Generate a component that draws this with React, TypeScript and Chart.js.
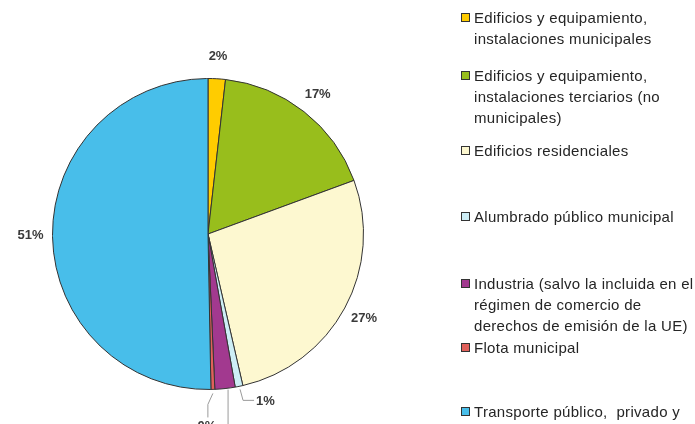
import React, { useEffect, useRef } from "react";
import { Chart, registerables } from "chart.js";

Chart.register(...registerables);

const categories = [
  "Edificios y equipamiento,\ninstalaciones municipales",
  "Edificios y equipamiento,\ninstalaciones terciarios (no\nmunicipales)",
  "Edificios residenciales",
  "Alumbrado público municipal",
  "Industria (salvo la incluida en el\nrégimen de comercio de\nderechos de emisión de la UE)",
  "Flota municipal",
  "Transporte público,  privado y\ncomercial",
];
const shares = [1.8, 17.6, 27.0, 0.8, 2.1, 0.4, 50.3];
const pctLabels = ["2%", "17%", "27%", "1%", "2%", "0%", "51%"];
const colors = ["#FFCC00", "#98BE1C", "#FDF8D0", "#CDEEF6", "#A2398F", "#E0605A", "#48BEEA"];
const legendTops = [7, 65, 140, 206, 273, 337, 401];

const FONT = '"Liberation Sans", Arial, sans-serif';

const labelPlugin = {
  id: "pctLabels",
  afterDatasetsDraw(chart: any) {
    const ctx = chart.ctx;
    const meta = chart.getDatasetMeta(0);
    ctx.save();
    ctx.font = `bold 13px ${FONT}`;
    ctx.fillStyle = "#3a3a3a";
    ctx.strokeStyle = "#9a9a9a";
    ctx.lineWidth = 1;
    meta.data.forEach((arc: any, i: number) => {
      const p = arc.getProps(["x", "y", "startAngle", "endAngle", "outerRadius"], true);
      const mid = (p.startAngle + p.endAngle) / 2;
      const ex = p.x + Math.cos(mid) * p.outerRadius;
      const ey = p.y + Math.sin(mid) * p.outerRadius;
      if (i === 3) {
        ctx.beginPath();
        ctx.moveTo(ex + 1, ey + 3);
        ctx.lineTo(ex + 4, ey + 14);
        ctx.lineTo(ex + 15, ey + 14);
        ctx.stroke();
        ctx.textAlign = "left";
        ctx.textBaseline = "middle";
        ctx.fillText(pctLabels[i], ex + 17, ey + 15);
      } else if (i === 4) {
        ctx.beginPath();
        ctx.moveTo(ex + 3, ey + 1);
        ctx.lineTo(ex + 3, ey + 60);
        ctx.stroke();
        ctx.textAlign = "center";
        ctx.textBaseline = "top";
        ctx.fillText(pctLabels[i], ex + 3, ey + 62);
      } else if (i === 5) {
        ctx.beginPath();
        ctx.moveTo(ex, ey + 4);
        ctx.lineTo(ex - 5, ey + 15);
        ctx.lineTo(ex - 5, ey + 28);
        ctx.stroke();
        ctx.textAlign = "center";
        ctx.textBaseline = "top";
        ctx.fillText(pctLabels[i], ex - 6, ey + 30);
      } else {
        const r = p.outerRadius + 22;
        ctx.textAlign = "center";
        ctx.textBaseline = "middle";
        ctx.fillText(pctLabels[i], p.x + Math.cos(mid) * r, p.y + Math.sin(mid) * r);
      }
    });
    ctx.restore();
  },
};

export default function App() {
  const ref = useRef<HTMLCanvasElement>(null);
  useEffect(() => {
    if (!ref.current) return;
    const chart = new Chart(ref.current, {
      type: "pie",
      data: {
        labels: categories.map((c) => c.replace(/\n/g, " ")),
        datasets: [
          {
            data: shares,
            backgroundColor: colors,
            borderColor: "#333",
            borderWidth: 1,
          },
        ],
      },
      options: {
        responsive: false,
        animation: false,
        layout: { padding: { left: 52, top: 78, right: 331, bottom: 34 } },
        plugins: { legend: { display: false }, tooltip: { enabled: false } },
      },
      plugins: [labelPlugin],
    });
    return () => chart.destroy();
  }, []);

  return (
    <div
      style={{
        position: "fixed",
        left: 0,
        top: 0,
        width: 695,
        height: 424,
        overflow: "hidden",
        background: "#fff",
        fontFamily: FONT,
      }}
    >
      <canvas ref={ref} width={695} height={424} style={{ position: "absolute", left: 0, top: 0 }} />
      {categories.map((c, i) => (
        <div key={i} style={{ position: "absolute", left: 461, top: legendTops[i] }}>
          <div
            style={{
              position: "absolute",
              left: 0,
              top: 6,
              width: 7,
              height: 7,
              border: "1px solid #333",
              background: colors[i],
            }}
          />
          <div
            style={{
              marginLeft: 13,
              whiteSpace: "pre",
              fontSize: 15,
              letterSpacing: "0.3px",
              lineHeight: "21px",
              color: "#252525",
            }}
          >
            {c}
          </div>
        </div>
      ))}
    </div>
  );
}
